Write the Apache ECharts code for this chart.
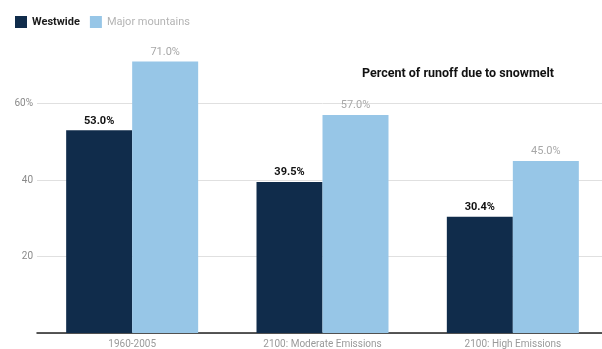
<!DOCTYPE html>
<html>
<head>
<meta charset="utf-8">
<script src="https://cdn.jsdelivr.net/npm/echarts@6/dist/echarts.min.js"></script>
<style>
  html, body { margin: 0; padding: 0; background: #fff; overflow: hidden; }
  #chart { width: 612px; height: 349px; }
</style>
</head>
<body>
<div id="chart"></div>
<script>
// Share of runoff that comes from snowmelt, historical vs. projected
const categories = ['1960-2005', '2100: Moderate Emissions', '2100: High Emissions'];
const westwide = [53.0, 39.5, 30.4];
const majorMountains = [71.0, 57.0, 45.0];
const yTicks = [0, 20, 40, 60, 80];

const chart = echarts.init(document.getElementById('chart'), null, { renderer: 'canvas' });

chart.setOption({
  animation: false,
  textStyle: { fontFamily: 'Roboto, "Noto Sans", sans-serif' },
  title: {
    text: 'Percent of runoff due to snowmelt',
    left: 357,
    top: 62,
    textStyle: { fontSize: 12.5, fontWeight: 'bold', color: '#111' }
  },
  legend: {
    left: 10,
    top: 11,
    itemWidth: 12,
    itemHeight: 12,
    itemGap: 10,
    icon: 'rect',
    textStyle: { fontSize: 11 },
    data: [
      { name: 'Westwide', textStyle: { color: '#1b1b1b', fontWeight: 'bold' } },
      { name: 'Major mountains', textStyle: { color: '#b4b4b4' } }
    ]
  },
  grid: { left: 37, top: 27, width: 571, height: 307, containLabel: false },
  xAxis: {
    type: 'category',
    data: categories,
    axisLine: { lineStyle: { color: '#222', width: 1.5 } },
    axisTick: { show: false },
    axisLabel: { color: '#9a9a9a', fontSize: 10, margin: 6 }
  },
  yAxis: {
    type: 'value',
    min: yTicks[0],
    max: yTicks[yTicks.length - 1],
    interval: 20,
    axisLine: { show: false },
    axisTick: { show: false },
    splitLine: { showMaxLine: false, lineStyle: { color: '#e0e0e0', width: 1 } },
    axisLabel: {
      color: '#8a8a8a',
      fontSize: 10,
      margin: 4,
      showMaxLabel: false,
      formatter: v => (v === 0 || v === 80) ? '' : (v === 60 ? v + '%' : String(v))
    }
  },
  series: [
    {
      name: 'Westwide',
      type: 'bar',
      data: westwide,
      barWidth: 66,
      barGap: '0%',
      itemStyle: { color: '#102c4b' },
      label: {
        show: true,
        position: 'top',
        distance: 4,
        color: '#111',
        fontSize: 11,
        fontWeight: 'bold',
        formatter: p => p.value.toFixed(1) + '%'
      }
    },
    {
      name: 'Major mountains',
      type: 'bar',
      data: majorMountains,
      barWidth: 66,
      barGap: '0%',
      itemStyle: { color: '#97c6e7' },
      label: {
        show: true,
        position: 'top',
        distance: 4,
        color: '#a8a8a8',
        fontSize: 11,
        formatter: p => p.value.toFixed(1) + '%'
      }
    }
  ]
});
</script>
</body>
</html>
